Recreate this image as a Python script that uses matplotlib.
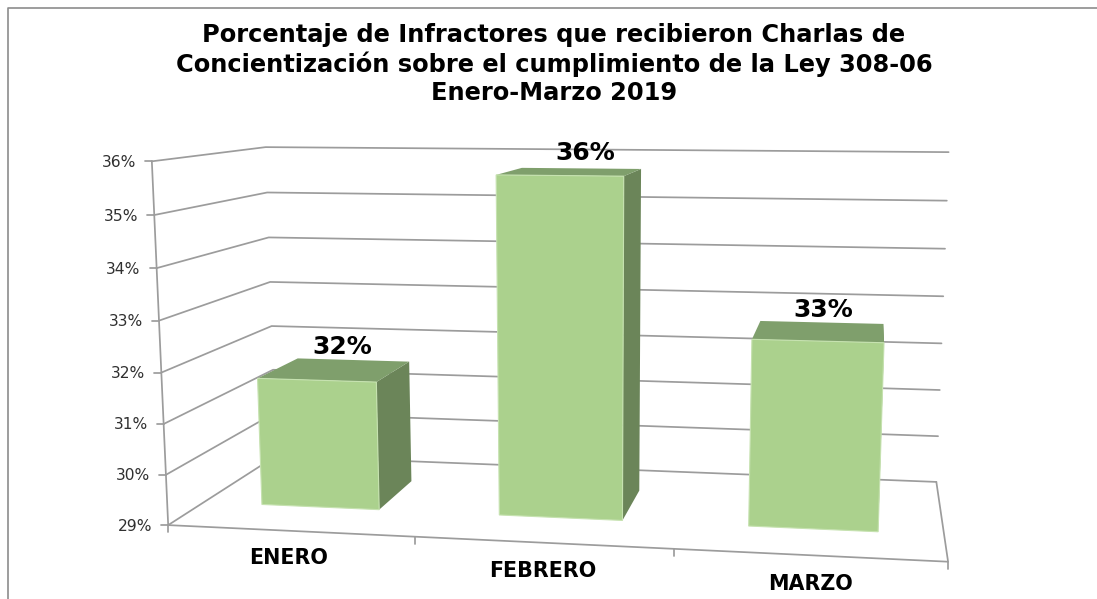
#!/usr/bin/env python3
import numpy as np
import matplotlib
matplotlib.use('Agg')
import matplotlib.pyplot as plt
from matplotlib.patches import Polygon

# Datos
meses = ['ENERO', 'FEBRERO', 'MARZO']
valores = [31.6, 35.7, 32.65]
etiquetas = ['32%', '36%', '33%']
niveles = [29, 30, 31, 32, 33, 34, 35, 36]
titulo = ('Porcentaje de Infractores que recibieron Charlas de\n'
          'Concientización sobre el cumplimiento de la Ley 308-06\n'
          'Enero-Marzo 2019')

# Calibracion de la perspectiva: (categoria, profundidad, valor) -> pixel
esquina_frontal = [(168, 524), (166, 474), (164, 423), (162, 372),
                   (159, 321), (156, 268), (154, 216), (152, 162)]
esquina_fondo = [(276, 459), (275, 414), (273, 370), (272, 325),
                 (270, 281), (268, 237), (267, 192), (266, 147)]
final_fondo = [(936, 481), (938, 435), (939, 390), (941, 343),
               (944, 296), (946, 249), (947, 201), (948, 153)]
frente_suelo = [(414, 537), (674, 549), (949, 563)]


def ajustar_proyeccion():
    mundo, pixel = [], []
    for i, z in enumerate(niveles):
        mundo += [(0, 0, z), (0, 1, z), (3, 1, z)]
        pixel += [esquina_frontal[i], esquina_fondo[i], final_fondo[i]]
    for i, p in enumerate(frente_suelo):
        mundo.append((i + 1, 0, 29))
        pixel.append(p)
    filas, b = [], []
    for (x, y, z), (u, v) in zip(mundo, pixel):
        filas.append([x, y, z, 1, 0, 0, 0, 0, -u * x, -u * y, -u * z])
        filas.append([0, 0, 0, 0, x, y, z, 1, -v * x, -v * y, -v * z])
        b += [u, v]
    h = np.linalg.lstsq(np.array(filas, float), np.array(b, float), rcond=None)[0]
    return np.append(h, 1.0).reshape(3, 4)


M = ajustar_proyeccion()


def proy(x, y, z):
    u, v, w = M @ np.array([x, y, z, 1.0])
    return u / w, v / w


fig = plt.figure(figsize=(10.97, 5.99), dpi=100)
ax = fig.add_axes([0, 0, 1, 1])
ax.set_xlim(0, 1097)
ax.set_ylim(599, 0)
ax.axis('off')

gris = '#9c9c9c'
lw = 1.25


def linea(*puntos, **kw):
    xs, ys = zip(*puntos)
    ax.plot(xs, ys, color=gris, lw=lw, solid_capstyle='round', zorder=1, **kw)


# Marco de la imagen (solo arriba e izquierda)
ax.plot([7.5, 7.5, 1097], [599, 7.5, 7.5], color='#8c8c8c', lw=1.2, zorder=1)

# Paredes y lineas de division
for z, et in zip(niveles, ['%d%%' % n for n in niveles]):
    a, b, c = proy(0, 0, z), proy(0, 1, z), proy(3, 1, z)
    linea(a, b, c)
    linea((a[0] - 7, a[1]), a)
    ax.text(a[0] - 16, a[1] + 1, et, ha='right', va='center',
            fontsize=11.2, color='#303030')

linea(proy(0, 0, niveles[0]), proy(0, 0, niveles[-1]))
linea(proy(3, 1, niveles[0]), proy(3, 0, niveles[0]), proy(0, 0, niveles[0]))
for i in range(4):
    p = proy(i, 0, niveles[0])
    linea(p, (p[0], p[1] + 7))

# Barras
ANCHO = 0.25
Y0, Y1 = 0.3, 0.7
verde = '#abd18d'
verde_top = '#7f9f6c'
verde_lado = '#6b8559'
desplaza = [(-11, -13), (4, -15), (2, -12)]
pos_mes = [(289, 558), (543, 571), (810, 584)]

for i, (mes, v, et) in enumerate(zip(meses, valores, etiquetas)):
    x0, x1 = i + 0.5 - ANCHO, i + 0.5 + ANCHO
    base = niveles[0]
    lado = [proy(x1, Y0, v), proy(x1, Y1, v), proy(x1, Y1, base), proy(x1, Y0, base)]
    arriba = [proy(x0, Y0, v), proy(x0, Y1, v), proy(x1, Y1, v), proy(x1, Y0, v)]
    frente = [proy(x0, Y0, v), proy(x1, Y0, v), proy(x1, Y0, base), proy(x0, Y0, base)]
    ax.add_patch(Polygon(lado, closed=True, fc=verde_lado, ec='none', zorder=2))
    ax.add_patch(Polygon(arriba, closed=True, fc=verde_top, ec='none', zorder=3))
    ax.add_patch(Polygon(frente, closed=True, fc=verde, ec='#c6e2b0', lw=0.8, zorder=4))

    px, py = proy(i + 0.5, Y1, v)
    ax.text(px + desplaza[i][0], py + desplaza[i][1], et, ha='center', va='center',
            fontsize=18, fontweight='bold', color='black', zorder=5)
    ax.text(pos_mes[i][0], pos_mes[i][1], mes, ha='center', va='center',
            fontsize=14.9, fontweight='bold', color='black', zorder=5)

ax.text(554, 64, titulo, ha='center', va='center', fontsize=17.35,
        fontweight='bold', color='black', linespacing=1.23)

fig.savefig('out.png', dpi=100)
